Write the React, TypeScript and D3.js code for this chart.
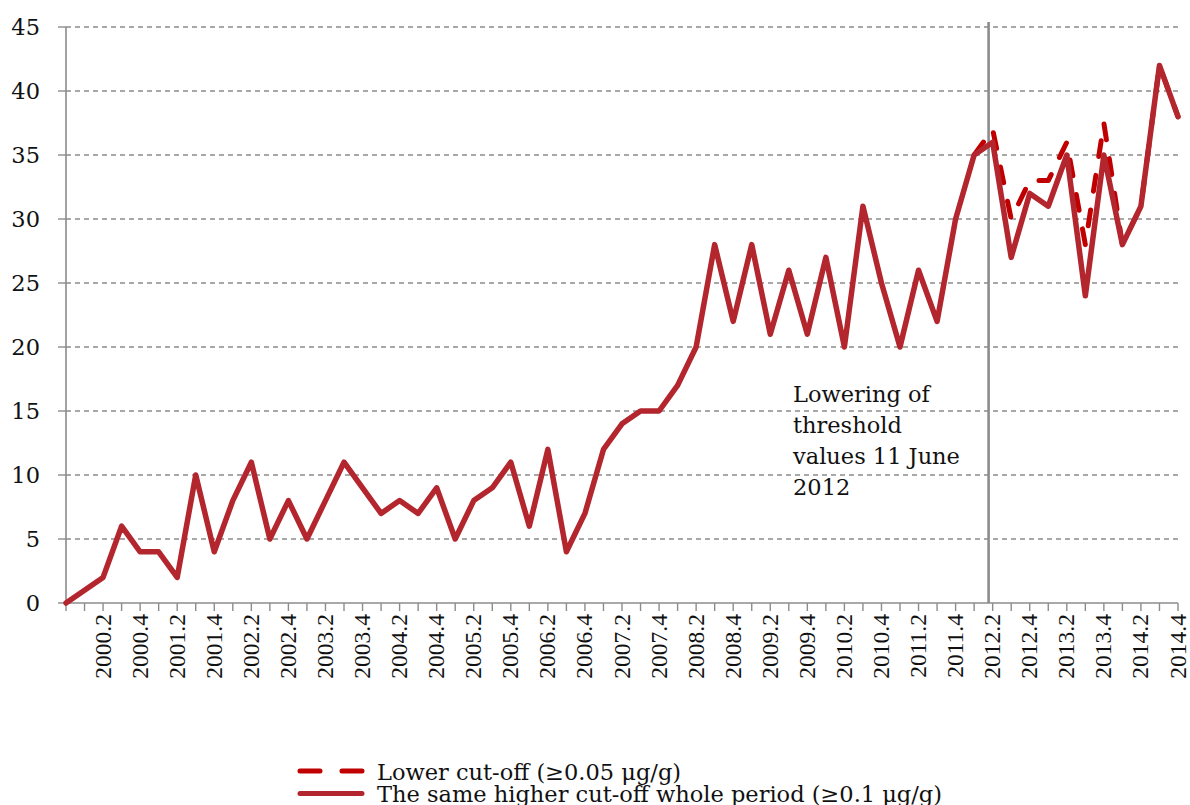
import React from "react";
import * as d3 from "d3";

// Quarter categories (first position is the unlabeled origin of the series)
const categories: string[] = [
  "",
  "2000.1", "2000.2", "2000.3", "2000.4",
  "2001.1", "2001.2", "2001.3", "2001.4",
  "2002.1", "2002.2", "2002.3", "2002.4",
  "2003.1", "2003.2", "2003.3", "2003.4",
  "2004.1", "2004.2", "2004.3", "2004.4",
  "2005.1", "2005.2", "2005.3", "2005.4",
  "2006.1", "2006.2", "2006.3", "2006.4",
  "2007.1", "2007.2", "2007.3", "2007.4",
  "2008.1", "2008.2", "2008.3", "2008.4",
  "2009.1", "2009.2", "2009.3", "2009.4",
  "2010.1", "2010.2", "2010.3", "2010.4",
  "2011.1", "2011.2", "2011.3", "2011.4",
  "2012.1", "2012.2", "2012.3", "2012.4",
  "2013.1", "2013.2", "2013.3", "2013.4",
  "2014.1", "2014.2", "2014.3", "2014.4",
];

// Labels shown on the category axis
const tickLabels: string[] = [
  "2000.2", "2000.4", "2001.2", "2001.4", "2002.2", "2002.4", "2003.2", "2003.4",
  "2004.2", "2004.4", "2005.2", "2005.4", "2006.2", "2006.4", "2007.2", "2007.4",
  "2008.2", "2008.4", "2009.2", "2009.4", "2010.2", "2010.4", "2011.2", "2011.4",
  "2012.2", "2012.4", "2013.2", "2013.4", "2014.2", "2014.4",
];

// The same higher cut-off whole period (>=0.1 µg/g)
const higherCutoff: number[] = [
  0, 1, 2, 6, 4, 4, 2, 10, 4, 8,
  11, 5, 8, 5, 8, 11, 9, 7, 8, 7,
  9, 5, 8, 9, 11, 6, 12, 4, 7, 12,
  14, 15, 15, 17, 20, 28, 22, 28, 21, 26,
  21, 27, 20, 31, 25, 20, 26, 22, 30, 35,
  36, 27, 32, 31, 35, 24, 35, 28, 31, 42,
  38,
];

// Lower cut-off (>=0.05 µg/g), only differs after the threshold change
const lowerCutoffStart = "2012.1";
const lowerCutoff: number[] = [35, 37, 30, 33, 33, 36, 28, 37.5, 28, 31, 42, 38];

const yTicks: number[] = [0, 5, 10, 15, 20, 25, 30, 35, 40, 45];

const thresholdAfter = "2012.1";
const thresholdFraction = 0.78;

const annotationLines: string[] = ["Lowering of", "threshold", "values 11 June", "2012"];

const legendItems = [
  { label: "Lower cut-off (\u22650.05 \u03bcg/g)", dashed: true },
  { label: "The same higher cut-off whole period (\u22650.1 \u03bcg/g)", dashed: false },
];

const W = 1190;
const H = 805;
const serif = "'DejaVu Serif', serif";

export default function App() {
  const x = d3.scalePoint<string>().domain(categories).range([66, 1178]);
  const y = d3.scaleLinear().domain([0, 45]).range([603, 27]);
  const step = x.step();

  const solidData = higherCutoff.map((v, i) => ({ c: categories[i], v }));
  const startIdx = categories.indexOf(lowerCutoffStart);
  const dashData = lowerCutoff.map((v, i) => ({ c: categories[startIdx + i], v }));

  const line = d3
    .line<{ c: string; v: number }>()
    .x((d) => x(d.c) as number)
    .y((d) => y(d.v));

  const thresholdX = (x(thresholdAfter) as number) + thresholdFraction * step;
  const grid = "#8c8c8c";

  return (
    <svg
      width={W}
      height={H}
      style={{ position: "absolute", left: 0, top: 0, background: "#fff" }}
      fontFamily={serif}
    >
      {/* horizontal grid lines */}
      {yTicks.map((t) =>
        t === 0 ? null : (
          <line
            key={"g" + t}
            x1={66}
            x2={1178}
            y1={y(t)}
            y2={y(t)}
            stroke={grid}
            strokeWidth={1.4}
            strokeDasharray="5,4"
          />
        )
      )}
      {/* y tick marks */}
      {yTicks.map((t) => (
        <line key={"yt" + t} x1={58} x2={66} y1={y(t)} y2={y(t)} stroke={grid} strokeWidth={1.4} />
      ))}
      {/* y labels */}
      {yTicks.map((t) => (
        <text
          key={"yl" + t}
          x={40}
          y={y(t) + 8}
          textAnchor="end"
          fontSize={22.5}
          fill="#111"
        >
          {t}
        </text>
      ))}
      {/* y axis */}
      <line x1={66} x2={66} y1={y(45)} y2={y(0)} stroke={grid} strokeWidth={1.6} />
      {/* x axis */}
      <line x1={66} x2={1178} y1={y(0)} y2={y(0)} stroke={grid} strokeWidth={1.6} />
      {categories.map((c, i) => (
        <line
          key={"xt" + i}
          x1={x(c) as number}
          x2={x(c) as number}
          y1={y(0)}
          y2={y(0) + 8}
          stroke={grid}
          strokeWidth={1.4}
        />
      ))}
      {tickLabels.map((lab) => {
        const px = x(lab) as number;
        return (
          <text
            key={"xl" + lab}
            transform={`translate(${px + 7.5},${614}) rotate(-90)`}
            textAnchor="end"
            fontFamily="'Liberation Serif', serif"
            fontSize={23.5}
            fill="#111"
          >
            {lab}
          </text>
        );
      })}

      {/* threshold marker */}
      <line x1={thresholdX} x2={thresholdX} y1={22} y2={y(0)} stroke="#8c8c8c" strokeWidth={2.6} />
      {annotationLines.map((s, i) => (
        <text key={"an" + i} x={793} y={401.5 + i * 31.2} fontSize={22.5} fill="#111">
          {s}
        </text>
      ))}

      {/* series */}
      <path
        d={line(dashData) || ""}
        fill="none"
        stroke="#c00000"
        strokeWidth={5}
        strokeDasharray="16,19"
        strokeLinecap="round"
        strokeLinejoin="round"
      />
      <path
        d={line(solidData) || ""}
        fill="none"
        stroke="#b3262e"
        strokeWidth={5.5}
        strokeLinecap="round"
        strokeLinejoin="round"
      />

      {/* legend */}
      {legendItems.map((it, i) => {
        const cy = 771 + i * 22.5;
        return (
          <g key={"lg" + i}>
            <line
              x1={300}
              x2={it.dashed ? 364 : 362}
              y1={cy}
              y2={cy}
              stroke={it.dashed ? "#c00000" : "#b3262e"}
              strokeWidth={5}
              strokeLinecap="round"
              strokeDasharray={it.dashed ? "20,22" : undefined}
            />
            <text x={377} y={cy + 8.5} fontSize={22.5} fill="#111">
              {it.label}
            </text>
          </g>
        );
      })}
    </svg>
  );
}
